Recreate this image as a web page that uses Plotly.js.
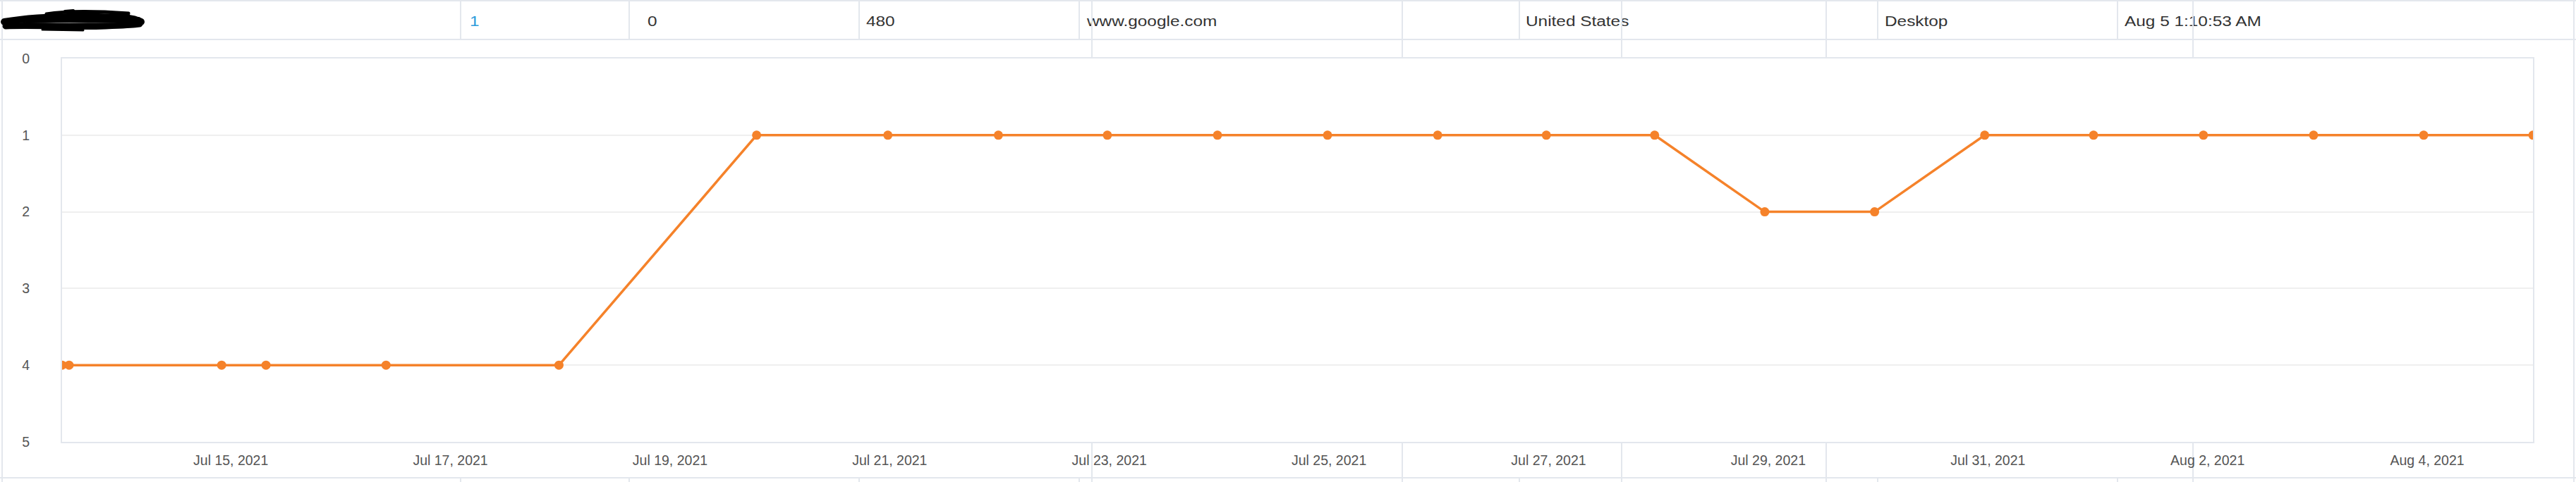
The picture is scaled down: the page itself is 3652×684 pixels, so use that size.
<!DOCTYPE html>
<html>
<head>
<meta charset="utf-8">
<script src="https://cdn.plot.ly/plotly-3.0.1.min.js"></script>
<style>
  html, body { margin: 0; padding: 0; background: #fff; }
  #wrap { position: relative; width: 3652px; height: 684px; overflow: hidden; background: #fff; }
  .ln { position: absolute; background: #e3e7ed; }
  .cell { position: absolute; top: 18px; font-family: "Liberation Sans", Arial, sans-serif; font-size: 19.5px; color: #333;
          transform: scaleX(1.25); transform-origin: left center; white-space: nowrap; line-height: 24px; }
  #chart { position: absolute; left: 0; top: 0; width: 3652px; height: 684px; z-index: 2; }
  #deco { position: absolute; left: 0; top: 0; width: 3652px; height: 684px; z-index: 1; }
  #scribble { position: absolute; left: 0; top: 0; z-index: 3; }
</style>
</head>
<body>
<div id="wrap">
  <div id="deco"></div>
  <svg id="scribble" width="230" height="56">
    <g stroke="#000" fill="none" stroke-linecap="round" stroke-linejoin="round">
      <path d="M6 31 C40 25, 90 23, 140 24 S190 27, 200 31" stroke-width="10"/>
      <path d="M8 37 C50 35, 100 39, 150 37 S188 35, 198 34" stroke-width="9"/>
      <path d="M66 20 C90 16, 125 15, 182 19" stroke-width="5"/>
      <path d="M40 29 C80 27, 130 30, 196 28" stroke-width="8"/>
      <path d="M60 42 L118 43" stroke-width="3"/>
      <path d="M92 16 L104 15" stroke-width="4"/>
    </g>
  </svg>
  <div id="chart"></div>
</div>
<script>
// ---- data ----
const dates = ['2021-07-13 11:08','2021-07-13 12:40','2021-07-14 22:00','2021-07-15 07:42','2021-07-16 09:56',
  '2021-07-17 23:43','2021-07-19 18:55','2021-07-20 23:36','2021-07-21 23:45','2021-07-22 23:34',
  '2021-07-23 23:38','2021-07-24 23:41','2021-07-25 23:45','2021-07-26 23:30','2021-07-27 23:10',
  '2021-07-28 23:14','2021-07-29 23:14','2021-07-30 23:18','2021-07-31 23:05','2021-08-01 23:06',
  '2021-08-02 23:10','2021-08-03 23:14','2021-08-04 23:07'];
const ranks = [4,4,4,4,4,4,1,1,1,1,1,1,1,1,1,2,2,1,1,1,1,1,1];
const yTicks = [0,1,2,3,4,5];

// table row texts
const rowTexts = ['1','0','480','www.google.com','United States','Desktop','Aug 5 1:10:53 AM'];
const rowTextX = [666, 918, 1228, 1541, 2163, 2672, 3012];
const rowTextColors = ['#2d9cdb','#333','#333','#333','#333','#333','#333'];

// ---- page decoration (table borders behind the chart) ----
const deco = document.getElementById('deco');
function line(x, y, w, h) {
  const d = document.createElement('div');
  d.className = 'ln';
  d.style.left = x + 'px'; d.style.top = y + 'px';
  d.style.width = w + 'px'; d.style.height = h + 'px';
  deco.appendChild(d);
}
line(0, 0, 3652, 2);
line(0, 55, 3652, 2);
line(0, 677, 3652, 2);
line(2, 0, 2, 684);
line(3648, 0, 2, 684);
[652, 891, 1217, 1529, 2153, 2661, 3001].forEach(x => { line(x, 0, 2, 56); line(x, 678, 2, 6); });
[1547, 1987, 2298, 2588, 3108].forEach(x => line(x, 0, 2, 684));
rowTexts.forEach((t, i) => {
  const d = document.createElement('div');
  d.className = 'cell';
  d.textContent = t;
  d.style.left = rowTextX[i] + 'px';
  d.style.color = rowTextColors[i];
  document.getElementById('wrap').appendChild(d);
});

// ---- chart ----
const trace = {
  x: dates, y: ranks, type: 'scatter', mode: 'lines+markers',
  line: { color: '#f5822a', width: 3.5 },
  marker: { color: '#f5822a', size: 13 },
  hoverinfo: 'x+y'
};
const layout = {
  width: 3652, height: 684,
  margin: { l: 88, r: 61, t: 83, b: 57 },
  paper_bgcolor: 'rgba(0,0,0,0)',
  plot_bgcolor: '#ffffff',
  showlegend: false,
  font: { family: '"Liberation Sans", Arial, sans-serif', size: 19.5, color: '#555' },
  xaxis: {
    type: 'date',
    range: [dates[0], dates[dates.length - 1]],
    tick0: '2021-07-15', dtick: 172800000,
    tickformat: '%b %-d, %Y',
    showgrid: false, zeroline: false,
    showline: true, mirror: true, linecolor: '#e3e7ed', linewidth: 2,
    ticks: '', ticklabelstandoff: 8,
    tickfont: { size: 19.5, color: '#555' }
  },
  yaxis: {
    range: [5, 0],
    tickvals: yTicks,
    ticktext: yTicks.map(String),
    showgrid: true, gridcolor: '#efefef', gridwidth: 2,
    zeroline: false,
    showline: true, mirror: true, linecolor: '#e3e7ed', linewidth: 2,
    ticks: '', ticklabelstandoff: 40,
    tickfont: { size: 19.5, color: '#555' }
  }
};
Plotly.newPlot('chart', [trace], layout, { displayModeBar: false, staticPlot: true });
</script>
</body>
</html>
